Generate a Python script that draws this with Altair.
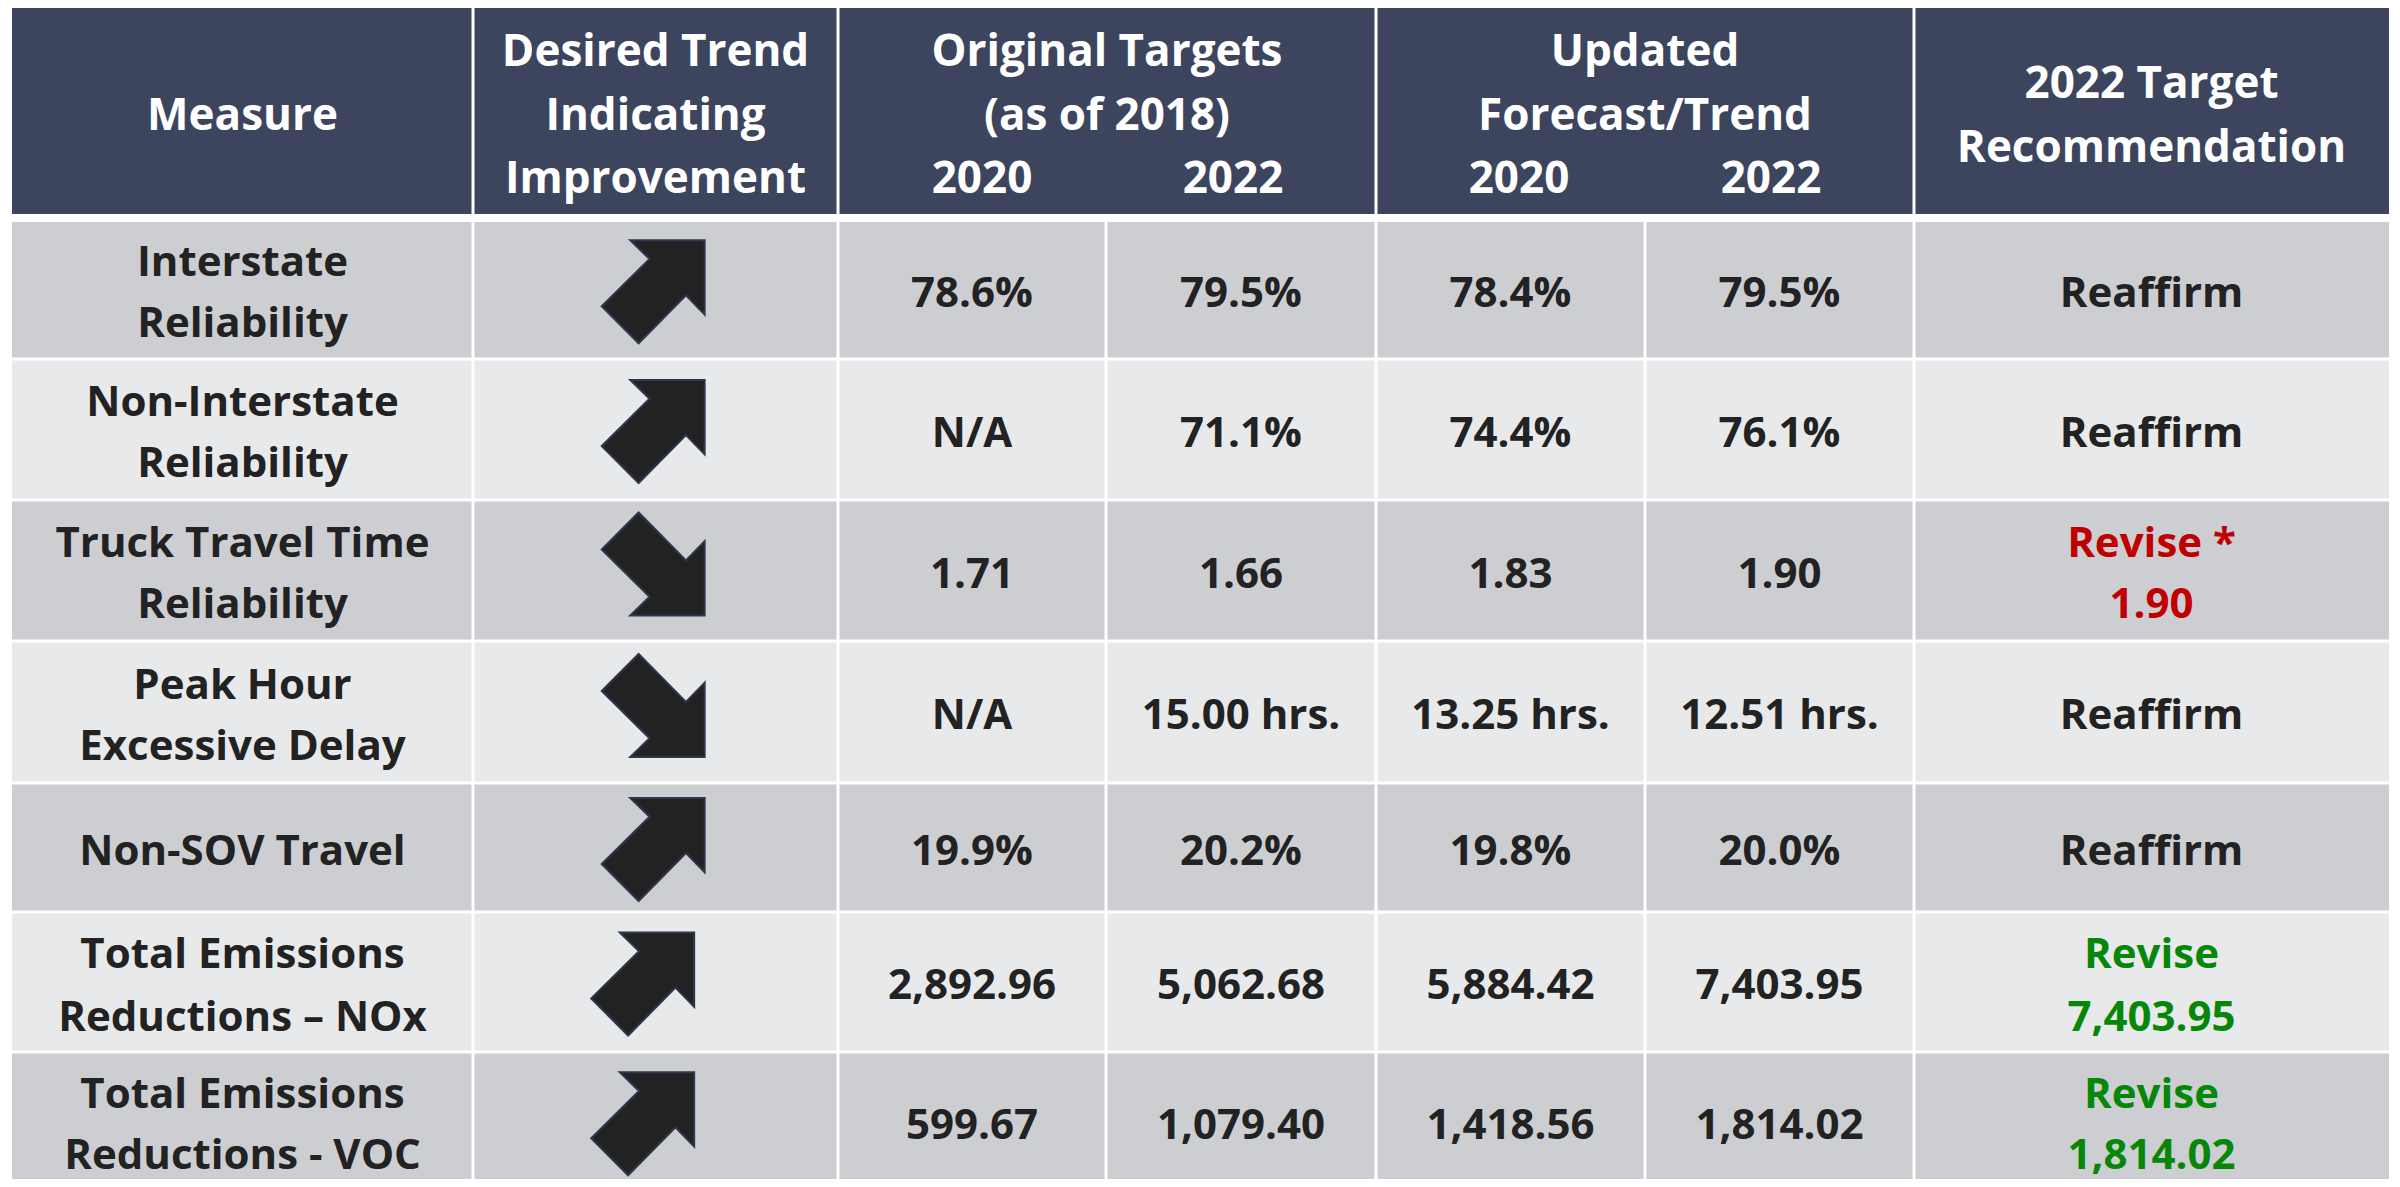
import altair as alt
import pandas as pd

# ---------------- data ----------------
measures = [
    "Interstate\nReliability",
    "Non-Interstate\nReliability",
    "Truck Travel Time\nReliability",
    "Peak Hour\nExcessive Delay",
    "Non-SOV Travel",
    "Total Emissions\nReductions – NOx",
    "Total Emissions\nReductions - VOC",
]
trend = ["up", "up", "down", "down", "up", "up", "up"]
orig_2020 = ["78.6%", "N/A", "1.71", "N/A", "19.9%", "2,892.96", "599.67"]
orig_2022 = ["79.5%", "71.1%", "1.66", "15.00 hrs.", "20.2%", "5,062.68", "1,079.40"]
upd_2020 = ["78.4%", "74.4%", "1.83", "13.25 hrs.", "19.8%", "5,884.42", "1,418.56"]
upd_2022 = ["79.5%", "76.1%", "1.90", "12.51 hrs.", "20.0%", "7,403.95", "1,814.02"]
recommendation = ["Reaffirm", "Reaffirm", "Revise *\n1.90", "Reaffirm", "Reaffirm",
                  "Revise\n7,403.95", "Revise\n1,814.02"]
rec_status = ["normal", "normal", "red", "normal", "normal", "green", "green"]

header_main = ["Measure", "Desired Trend\nIndicating\nImprovement",
               "Original Targets\n(as of 2018)", "Updated\nForecast/Trend",
               "2022 Target\nRecommendation"]
header_years = ["2020", "2022", "2020", "2022"]

# ---------------- layout ----------------
W, H = 2384, 1171
col_edges = [12, 473, 838, 1106, 1376, 1645, 1914, 2389]
gap = 3
header_top, header_bottom = 7, 214
row_tops = [222, 360.5, 501.5, 642.5, 784.5, 913.5, 1053.5]
row_bottoms = [357.5, 498.5, 639.5, 781.5, 910.5, 1050.5, 1190]
header_spans = [(0, 1), (1, 2), (2, 4), (4, 6), (6, 7)]
header_first_y = [113, 49, 49, 49, 81]
header_lh = 63.5
body_lh = [61, 61, 61, 61, 61, 63, 61]
year_x = [982, 1233, 1519, 1771]
year_y = 176
text_dy = 4
arrow_x = 653.7
arrow_dx = [0, 0, 0, 0, 0, -10.5, -10.5]
arrow_dy = {"up": 1.5, "down": -6}

UP = "M -0.45 -0.98 L 0.98 -0.98 L 0.98 0.45 L 0.62 0.08 L -0.29 1 L -1 0.29 L -0.08 -0.62 Z"
DOWN = "M -0.45 0.98 L 0.98 0.98 L 0.98 -0.45 L 0.62 -0.08 L -0.29 -1 L -1 -0.29 L -0.08 0.62 Z"


def cx(j):
    return (col_edges[j] + col_edges[j + 1]) / 2


def left(j):
    return col_edges[j] + (gap / 2 if j > 0 else 0)


def right(j):
    return col_edges[j] - (gap / 2 if j < len(col_edges) - 1 else 0)


# cells
cells = []
for a, b in header_spans:
    cells.append(dict(x=left(a), x2=right(b), y=header_top, y2=header_bottom, kind="header"))
for i in range(len(measures)):
    kind = "dark" if i % 2 == 0 else "light"
    y2 = row_bottoms[i] if i < len(measures) - 1 else 1200
    for j in range(len(col_edges) - 1):
        cells.append(dict(x=left(j), x2=right(j + 1), y=row_tops[i], y2=y2, kind=kind))
cells_df = pd.DataFrame(cells)

# header texts (one record per line)
htexts = []
for k, (a, b) in enumerate(header_spans):
    for n, line in enumerate(header_main[k].split("\n")):
        htexts.append(dict(x=(col_edges[a] + col_edges[b]) / 2,
                           y=header_first_y[k] + n * header_lh, text=line))
for k, t in enumerate(header_years):
    htexts.append(dict(x=year_x[k], y=year_y, text=t))
htext_df = pd.DataFrame(htexts)

# body texts (one record per line, block centred in its row)
btexts = []
for i in range(len(measures)):
    yc = (row_tops[i] + row_bottoms[i]) / 2
    cols = [(0, measures[i], "normal"), (2, orig_2020[i], "normal"), (3, orig_2022[i], "normal"),
            (4, upd_2020[i], "normal"), (5, upd_2022[i], "normal"),
            (6, recommendation[i], rec_status[i])]
    for j, t, s in cols:
        lines = t.split("\n")
        y0 = yc - (len(lines) - 1) * body_lh[i] / 2
        for n, line in enumerate(lines):
            btexts.append(dict(x=cx(j), y=y0 + n * body_lh[i], text=line, status=s))
btext_df = pd.DataFrame(btexts)

# arrows
arrows_df = pd.DataFrame([
    dict(x=arrow_x + arrow_dx[i],
         y=(row_tops[i] + row_bottoms[i]) / 2 + arrow_dy[trend[i]],
         trend=trend[i])
    for i in range(len(measures))
])

xs = alt.Scale(domain=[8, 8 + W], range=[0, W], zero=False, nice=False)
ys = alt.Scale(domain=[8, 8 + H], range=[0, H], zero=False, nice=False)


def X(f="x"):
    return alt.X(f"{f}:Q", scale=xs, axis=None)


def Y(f="y"):
    return alt.Y(f"{f}:Q", scale=ys, axis=None)


rects = alt.Chart(cells_df).mark_rect(clip=True).encode(
    x=X(), x2="x2:Q", y=Y(), y2="y2:Q",
    fill=alt.Fill("kind:N", scale=alt.Scale(domain=["header", "dark", "light"],
                                             range=["#3D455E", "#CDCED2", "#E8E9EB"]), legend=None),
)

header_text = alt.Chart(htext_df).mark_text(
    font="Open Sans", fontWeight="bold", fontSize=44, color="#FFFFFF",
    align="center", baseline="middle", dy=text_dy,
).encode(x=X(), y=Y(), text="text:N")

body_text = alt.Chart(btext_df).mark_text(
    font="Open Sans", fontWeight="bold", fontSize=42,
    align="center", baseline="middle", dy=text_dy,
).encode(
    x=X(), y=Y(), text="text:N",
    color=alt.Color("status:N", scale=alt.Scale(domain=["normal", "red", "green"],
                                                 range=["#222222", "#C00000", "#078707"]), legend=None),
)

arrows = alt.Chart(arrows_df).mark_point(
    filled=True, size=10816, fill="#222222", stroke="#2E3650", strokeWidth=2, opacity=1,
).encode(
    x=X(), y=Y(),
    shape=alt.Shape("trend:N", scale=alt.Scale(domain=["up", "down"], range=[UP, DOWN]), legend=None),
)

chart = alt.layer(rects, arrows, header_text, body_text).properties(
    width=W, height=H, padding=0, background="#FFFFFF",
    autosize=alt.AutoSizeParams(type="none"),
).configure_view(stroke=None)

chart.save("out.html", embed_options={"renderer": "svg", "actions": False})
